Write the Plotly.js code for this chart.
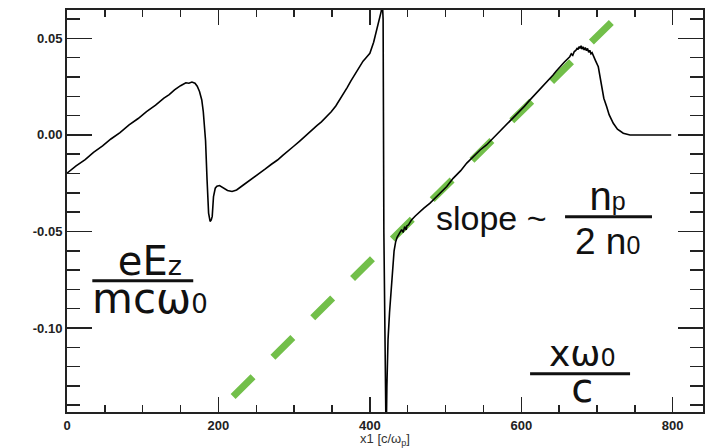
<!DOCTYPE html>
<html>
<head>
<meta charset="utf-8">
<script src="https://cdn.plot.ly/plotly-3.0.1.min.js"></script>
<style>html,body{margin:0;padding:0;background:#fff;}#chart{width:710px;height:448px;}</style>
</head>
<body>
<div id="chart"></div>
<script>
// Longitudinal field eEz/(m c w0) vs x1 [c/wp]
var fieldX = [0, 12, 24, 35, 47, 58, 70, 82, 94, 105, 117, 128, 135, 142, 150, 154, 157, 161, 165, 169, 172,
  175, 178, 180, 181.5, 183, 185, 187, 189, 190.5, 191.8, 193.5, 195.8, 198, 201.5, 206, 212, 218, 224,
  232, 240, 248, 255, 262, 270, 278, 285, 292, 299, 307, 315, 322, 330, 336, 343, 349, 355, 360, 365, 370, 375, 381, 387, 391, 395, 400, 405, 409, 412.6, 415, 416.5,
  417.5, 418.5, 419.5, 420.5, 421.5, 422.5, 424, 426, 428, 430, 432, 434, 436, 439, 442, 444, 446, 448, 449, 451, 455, 460, 464, 471, 479.5,
  490, 501.6, 510, 520, 528, 537, 545.6, 554, 562, 570, 578, 585, 592, 598, 604, 610, 615, 620, 626, 632, 637, 642, 646, 650, 654, 657, 660, 664, 666, 668, 670, 672, 674, 675, 676.5, 677.5, 679, 680, 681.5, 683, 684.5, 686, 687.5, 689, 690.5, 692, 693.5, 695, 698,
  701.7, 704, 706, 709, 712.8, 716, 721.5, 727, 734.7, 740, 743.5, 760, 780, 798];
var fieldY = [-0.0198, -0.0160, -0.0128, -0.0090, -0.0057, -0.0021, 0.0012, 0.0052, 0.0085, 0.0121, 0.0154, 0.0191, 0.0209, 0.0233, 0.0255, 0.0262, 0.0270, 0.0268, 0.0274, 0.0268, 0.0252,
  0.0225, 0.0181, 0.0120, 0.0050, -0.0030, -0.0233, -0.0405, -0.0448, -0.0440, -0.0422, -0.0319, -0.0276, -0.0266, -0.0262, -0.0272, -0.0288, -0.0293, -0.0285,
  -0.0262, -0.0240, -0.0218, -0.0198, -0.0176, -0.0152, -0.0130, -0.0106, -0.0085, -0.0060, -0.0033, -0.0003, 0.0020, 0.0048, 0.0068, 0.0095, 0.0120, 0.0150, 0.0180, 0.0216, 0.0245, 0.0280, 0.0318, 0.0362, 0.0382, 0.0400, 0.0423, 0.0480, 0.0540, 0.0595, 0.0640, 0.0690,
  0.0600, -0.0500, -0.1200, -0.1600, -0.1600, -0.1300, -0.1060, -0.0920, -0.0800, -0.0690, -0.0600, -0.0555, -0.0530, -0.0510, -0.0490, -0.0505, -0.0475, -0.0492, -0.0470, -0.0466, -0.0440, -0.0420, -0.0405, -0.0380, -0.0353,
  -0.0310, -0.0267, -0.0225, -0.0185, -0.0146, -0.0112, -0.0078, -0.0052, -0.0020, 0.0010, 0.0040, 0.0068, 0.0095, 0.0121, 0.0148, 0.0175, 0.0196, 0.0218, 0.0242, 0.0265, 0.0287, 0.0310, 0.0330, 0.0350, 0.0365, 0.0378, 0.0390, 0.0405, 0.0420, 0.0412, 0.0432, 0.0438, 0.0450, 0.0442, 0.0458, 0.0448, 0.0462, 0.0444, 0.0456, 0.0440, 0.0452, 0.0436, 0.0448, 0.0428, 0.0438, 0.0420, 0.0426, 0.0410, 0.0385,
  0.0353, 0.0300, 0.0250, 0.0190, 0.0146, 0.0105, 0.0060, 0.0030, 0.0009, 0.0002, 0.0000, 0.0000, 0.0000, 0.0000];

// Linear fit guide (slope ~ np / 2 n0)
var fitX = [219.4, 745];
var fitY = [-0.1355, 0.0684];

var xTickVals = [0, 200, 400, 600, 800];
var xTickText = ["0", "200", "400", "600", "800"];
var yTickVals = [-0.10, -0.05, 0.00, 0.05];
var yTickText = ["-0.10", "-0.05", "0.00", "0.05"];

var axisColor = '#222';
var traces = [
  {x: fitX, y: fitY, mode: 'lines', line: {color: '#72bf4a', width: 7, dash: '28px,28px'}, hoverinfo: 'skip'},
  {x: fieldX, y: fieldY, mode: 'lines', line: {color: '#000', width: 1.6}, hoverinfo: 'skip'}
];

var tickFont = {family: 'Liberation Sans', size: 13, color: '#222', weight: 'bold'};

var layout = {
  width: 710, height: 448,
  margin: {l: 67, r: 7, t: 10, b: 36, pad: 0},
  paper_bgcolor: '#fff', plot_bgcolor: '#fff',
  showlegend: false,
  font: {family: 'Liberation Sans', color: '#222'},
  xaxis: {
    range: [0, 840], tickvals: xTickVals, ticktext: xTickText,
    ticks: 'inside', ticklen: 15, tickwidth: 1.5, tickcolor: axisColor,
    minor: {dtick: 50, tick0: 0, ticks: 'inside', ticklen: 7, tickwidth: 1.5, tickcolor: axisColor},
    showline: true, linecolor: axisColor, linewidth: 2, mirror: 'ticks',
    showgrid: false, zeroline: false,
    tickfont: tickFont,
    title: {text: 'x1 [c/ω<sub>p</sub>]', font: {family: 'Liberation Sans', size: 13, color: '#333'}, standoff: 0},
    automargin: false, fixedrange: true
  },
  yaxis: {
    range: [-0.1435, 0.0647], tickvals: yTickVals, ticktext: yTickText,
    ticks: 'inside', ticklen: 25, tickwidth: 1.5, tickcolor: axisColor,
    minor: {dtick: 0.01, tick0: 0, ticks: 'inside', ticklen: 13, tickwidth: 1.5, tickcolor: axisColor},
    showline: true, linecolor: axisColor, linewidth: 2, mirror: 'ticks',
    showgrid: false, zeroline: false,
    tickfont: tickFont,
    automargin: false, fixedrange: true
  },
  shapes: [
    {type: 'line', xref: 'paper', yref: 'paper', x0: 0.0398, x1: 0.1985, y0: 0.3264, y1: 0.3264, line: {color: '#111', width: 3}},
    {type: 'line', xref: 'paper', yref: 'paper', x0: 0.7831, x1: 0.9198, y0: 0.4855, y1: 0.4855, line: {color: '#111', width: 3}},
    {type: 'line', xref: 'paper', yref: 'paper', x0: 0.7281, x1: 0.8853, y0: 0.0954, y1: 0.0954, line: {color: '#111', width: 3}}
  ],
  annotations: [
    {xref: 'paper', yref: 'paper', x: 0.1301, y: 0.3276, xanchor: 'center', yanchor: 'middle', align: 'center', showarrow: false,
     text: '<span style="font-size:40px">eE<span style="font-size:27px">z</span></span><br><span style="font-size:42px">mcω<span style="font-size:26px">0</span></span>',
     font: {family: 'DejaVu Sans', size: 29, color: '#111'}},
    {xref: 'paper', yref: 'paper', x: 0.6676, y: 0.483, xanchor: 'center', yanchor: 'middle', showarrow: false,
     text: 'slope ~', font: {family: 'Liberation Sans', size: 34, color: '#111'}},
    {xref: 'paper', yref: 'paper', x: 0.8505, y: 0.483, xanchor: 'center', yanchor: 'middle', align: 'center', showarrow: false,
     text: '<span style="font-size:40px">n<span style="font-size:25px">p</span></span><br><span style="font-size:37px">2 n<span style="font-size:25px">0</span></span>',
     font: {family: 'Liberation Sans', size: 34, color: '#111'}},
    {xref: 'paper', yref: 'paper', x: 0.8100, y: 0.0984, xanchor: 'center', yanchor: 'middle', align: 'center', showarrow: false,
     text: '<span style="font-size:36px">xω<span style="font-size:24px">0</span></span><br><span style="font-size:40px">c</span>',
     font: {family: 'DejaVu Sans', size: 28, color: '#111'}}
  ]
};

Plotly.newPlot('chart', traces, layout, {staticPlot: true, displayModeBar: false});
</script>
</body>
</html>
